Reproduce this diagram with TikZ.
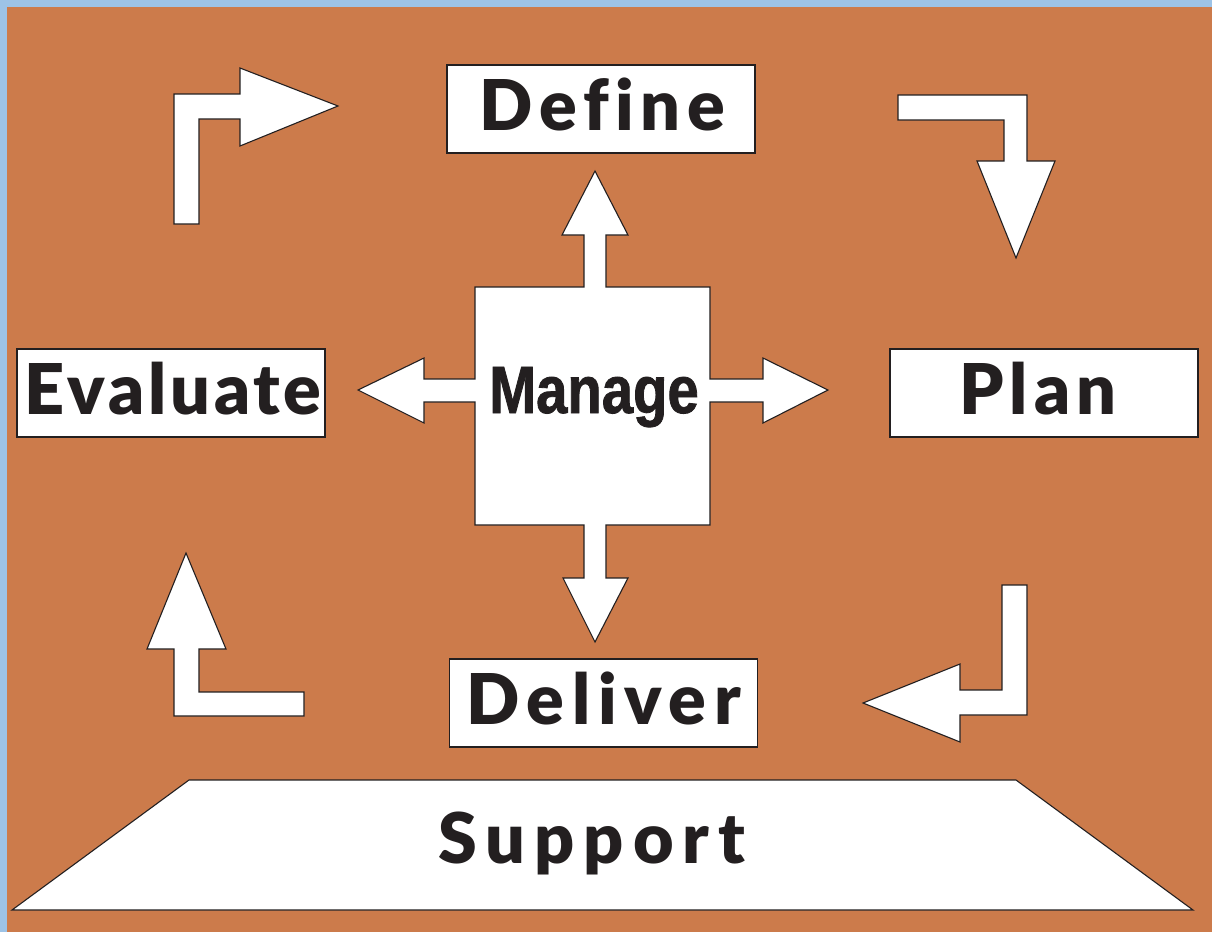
\documentclass[tikz,border=0pt]{standalone}
\usepackage{fontspec}
\newfontfamily\gill{Lato}[BoldFont={Lato Black}, Ligatures=NoCommon]
\newfontfamily\cond[FakeStretch=0.84, FakeBold=1.2]{Liberation Sans}
\definecolor{bgorange}{RGB}{204,123,75}
\definecolor{bgblue}{RGB}{157,195,230}
\definecolor{ink}{RGB}{35,31,32}
\tikzset{
  whiteshape/.style={fill=white, draw=ink, line width=1.1pt, line join=miter},
  labelbox/.style={whiteshape, rectangle, inner sep=0pt, minimum width=308pt, minimum height=88pt,
    font=\gill\bfseries\fontsize{70pt}{70pt}\selectfont, text=ink, text height=50pt, text depth=8pt},
  labeltext/.style={inner sep=0pt, font=\gill\bfseries\fontsize{70pt}{70pt}\selectfont, text=ink, text height=50pt, text depth=0pt},
  managetext/.style={inner sep=0pt, font=\cond\bfseries\fontsize{67pt}{67pt}\selectfont, text=ink, text height=48pt, text depth=0pt},
}
\begin{document}
\begin{tikzpicture}[x=1pt,y=-1pt]
\useasboundingbox (0,0) rectangle (1212,932);
\fill[bgblue] (0,0) rectangle (1212,932);
\fill[bgorange] (7,7) rectangle (1212,932);

% label boxes
\node[labelbox] (define) at (601,109) {\hspace*{3pt}\addfontfeature{LetterSpace=9.5}Define};
\node[labelbox] (plan) at (1044,393) {\hspace*{-12pt}\addfontfeature{LetterSpace=9}Plan};
\node[labelbox] (evaluate) at (171,393) {\hspace*{4pt}\addfontfeature{LetterSpace=5.5}Evaluate};
\node[labelbox] (deliver) at (603.5,703) {\addfontfeature{LetterSpace=11}Deliver};

% support platform
\draw[whiteshape] (12,910) -- (189,780) -- (1016,780) -- (1193,910) -- cycle;
\node[labeltext] (support) at (592,838) {\addfontfeature{LetterSpace=13}Support};

% manage cross
\draw[whiteshape] (475,287) -- (584,287) -- (584,235) -- (562,235) -- (595,171) -- (628,235) -- (606,235) -- (606,287)
  -- (710,287) -- (710,379) -- (763,379) -- (763,358) -- (828,390) -- (763,423) -- (763,402) -- (710,402)
  -- (710,525) -- (606,525) -- (606,578) -- (628,578) -- (595,642) -- (563,578) -- (584,578) -- (584,525)
  -- (475,525) -- (475,402) -- (424,402) -- (424,423) -- (358,390) -- (424,358) -- (424,379) -- (475,379) -- cycle;
\node[managetext] (manage) at (594,389) {Manage};

% cycle arrows
\draw[whiteshape] (174,224) -- (174,94) -- (240,94) -- (240,68) -- (338,106) -- (240,146) -- (240,119) -- (199,119) -- (199,224) -- cycle;
\draw[whiteshape] (898,95) -- (1027,95) -- (1027,161) -- (1055,161) -- (1016,258) -- (977,161) -- (1004,161) -- (1004,120) -- (898,120) -- cycle;
\draw[whiteshape] (1002,585) -- (1027,585) -- (1027,715) -- (960,715) -- (960,742) -- (863,703) -- (960,664) -- (960,690) -- (1002,690) -- cycle;
\draw[whiteshape] (304,692) -- (304,716) -- (174,716) -- (174,649) -- (147,649) -- (186,553) -- (226,649) -- (199,649) -- (199,692) -- cycle;
\end{tikzpicture}
\end{document}
